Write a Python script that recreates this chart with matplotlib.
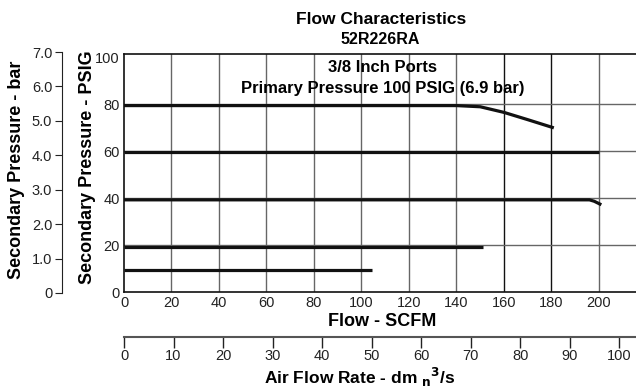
import matplotlib.pyplot as plt
import numpy as np

plt.rcParams['font.family'] = ['Liberation Sans', 'DejaVu Sans']

# flow curves (SCFM vs PSIG)
flow_80 = [0, 130, 140, 150, 160, 170, 181]
psig_80 = [79.5, 79.5, 79.5, 79.0, 76.6, 73.5, 70.0]
flow_60 = [0, 200]
psig_60 = [59.6, 59.6]
flow_40 = [0, 196, 198, 201]
psig_40 = [39.3, 39.3, 38.7, 37.2]
flow_20 = [0, 151]
psig_20 = [19.0, 19.0]
flow_10 = [0, 104.5]
psig_10 = [9.4, 9.4]

scfm_ticks = np.arange(0, 201, 20)
psig_ticks = np.arange(0, 101, 20)
bar_ticks = [0, 1, 2, 3, 4, 5, 6, 7]
bar_labels = ['0', '1.0', '2.0', '3.0', '4.0', '5.0', '6.0', '7.0']
dm3_ticks = np.arange(0, 101, 10)

W, H = 636, 386
fig = plt.figure(figsize=(W / 100, H / 100), dpi=100)


def box(x0, y0, x1, y1):
    # pixel box (top-left origin) -> figure fraction
    return [x0 / W, (H - y1) / H, (x1 - x0) / W, (y1 - y0) / H]


def ftext(x, y, s, size, **kw):
    fig.text(x / W, 1 - y / H, s, fontsize=size, fontweight='bold', **kw)


# main chart
ax = fig.add_axes(box(124, 54, 636, 292))
ax.set_xlim(0, 215.6)
ax.set_ylim(0, 101.5)
for x, y in [(flow_80, psig_80), (flow_60, psig_60), (flow_40, psig_40),
             (flow_20, psig_20), (flow_10, psig_10)]:
    ax.plot(x, y, color='#111111', lw=2.3, solid_capstyle='butt', zorder=3)
ax.set_xticks(scfm_ticks)
ax.set_yticks(psig_ticks)
for v in scfm_ticks[1:]:
    ax.axvline(v, color='#111111' if v in (160, 180) else '#666666', lw=1.0, zorder=1)
for v in psig_ticks[1:-1]:
    ax.axhline(v, color='#666666', lw=1.0, zorder=1)
ax.spines['right'].set_visible(False)
for s in ['left', 'bottom', 'top']:
    ax.spines[s].set_linewidth(1.2)
    ax.spines[s].set_color('#111111')
ax.tick_params(length=0, labelsize=10.5, pad=3, colors='#222222')

ftext(382, 322, 'Flow - SCFM', 13, ha='center', va='center')
ftext(88, 167, 'Secondary Pressure - PSIG', 13, rotation=90, ha='center', va='center')
ftext(17, 170, 'Secondary Pressure - bar', 13, rotation=90, ha='center', va='center')
ftext(383, 68, '3/8 Inch Ports', 12, ha='center', va='center')
ftext(383, 88, 'Primary Pressure 100 PSIG (6.9 bar)', 12, ha='center', va='center')
ftext(381, 19, 'Flow Characteristics', 12.5, ha='center', va='center')
ftext(380, 39, '52R226RA', 11.5, ha='center', va='center')

# bar axis on the far left
axb = fig.add_axes(box(62, 52, 63, 293))
axb.set_ylim(0, 7)
axb.set_xticks([])
axb.set_yticks(bar_ticks)
axb.set_yticklabels(bar_labels)
for s in ['right', 'top', 'bottom']:
    axb.spines[s].set_visible(False)
axb.spines['left'].set_color('#222222')
axb.tick_params(axis='y', length=5, labelsize=10.5, pad=2, colors='#222222')
axb.patch.set_visible(False)

# metric flow axis at the bottom
axm = fig.add_axes(box(124, 336.5, 636, 337))
axm.set_xlim(0, 103.4)
axm.set_yticks([])
axm.set_xticks(dm3_ticks)
for s in ['left', 'right', 'top']:
    axm.spines[s].set_visible(False)
axm.spines['bottom'].set_color('#555555')
axm.spines['bottom'].set_linewidth(1.5)
axm.tick_params(axis='x', direction='out', length=8, width=1.0, labelsize=10.5,
                pad=1, colors='#222222')
axm.patch.set_visible(False)
ftext(360, 384, r'Air Flow Rate - dm $_{\mathbf{n}}$$^{\mathbf{3}}$/s', 12.5,
      ha='center', va='baseline')

fig.savefig('out.png', dpi=100)
